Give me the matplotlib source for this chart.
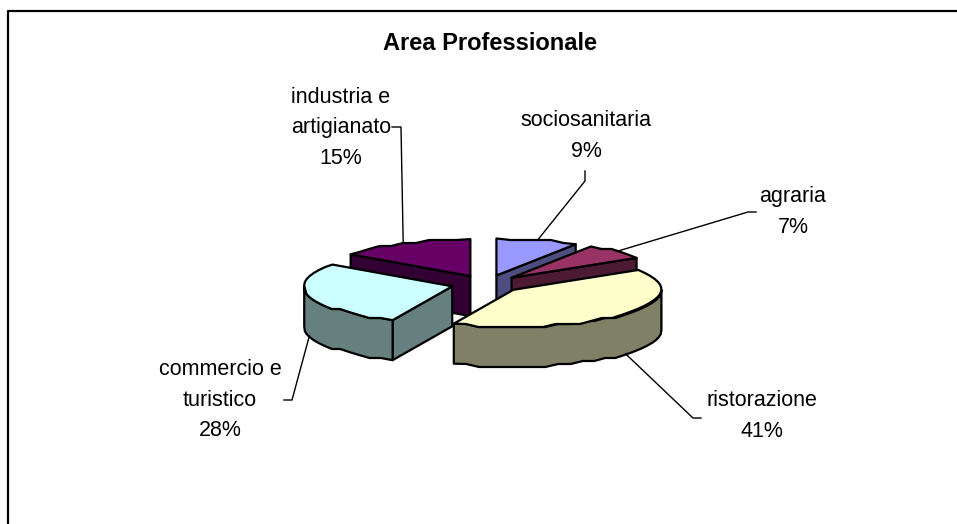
import numpy as np
import matplotlib
matplotlib.use('Agg')
import matplotlib.pyplot as plt
from matplotlib.patches import Polygon

plt.rcParams['font.family'] = ['Liberation Sans', 'DejaVu Sans']

# Dati del grafico
titolo = 'Area Professionale'
categorie = ['sociosanitaria', 'agraria', 'ristorazione',
             'commercio e\nturistico', 'industria e\nartigianato']
valori = [9, 7, 40.6, 28.4, 15]
colori = ['#9999FF', '#993366', '#FFFFCC', '#CCFFFF', '#660066']
colori_lato = ['#4D4D80', '#4D1A33', '#808066', '#668080', '#330033']

# Geometria della torta, in pixel
cx, cy = 486.5, 284
raggio = 148
schiaccia = 0.25
spessore = 40
esplosione = 35.5

# Posizione delle etichette e gomito delle linee guida
pos_etichette = [(586, 136), (793, 212), (762, 416), (220, 400), (341, 128)]
gomiti = [[(585, 171), (585, 181)], [(756, 212), (748, 212)],
          [(701, 418), (693, 418)], [(284, 400), (292, 400)],
          [(392, 127), (401, 127)]]
ordine = [4, 0, 1, 3, 2]


def punto(centro, ang):
    return (centro[0] + raggio * np.sin(ang),
            centro[1] - raggio * schiaccia * np.cos(ang))


def arco(centro, a1, a2):
    # passo largo e arrotondamento per il bordo a scalini dell'originale
    n = max(int(np.degrees(a2 - a1) / 5), 2)
    ang = np.linspace(a1, a2, n + 1)
    x, y = punto(centro, ang)
    y[1:-1] = np.round(y[1:-1] / 3) * 3
    return np.column_stack([x, y])


fig = plt.figure(figsize=(9.57, 5.24), dpi=100)
ax = fig.add_axes([0, 0, 1, 1])
ax.set_xlim(0, 957)
ax.set_ylim(524, 0)
ax.axis('off')

# Cornice: solo sinistra e sopra rientrano nell'immagine
ax.plot([8, 8, 957], [524, 11, 11], color='black', lw=1.6)

fine = np.cumsum(valori) / np.sum(valori) * 2 * np.pi
inizio = np.concatenate([[0], fine[:-1]])
medio = (inizio + fine) / 2
centri = [(cx + esplosione * np.sin(m),
           cy - esplosione * schiaccia * np.cos(m)) for m in medio]

stile = dict(edgecolor='black', lw=1.6, joinstyle='round')
for i in ordine:
    c, a1, a2 = centri[i], inizio[i], fine[i]
    giu = np.array([0, spessore])
    # pareti radiali, solo se rivolte verso chi guarda
    for a, visibile in ((a1, np.sin(a1) < -1e-6), (a2, np.sin(a2) > 1e-6)):
        if visibile:
            p = np.array(punto(c, a))
            ax.add_patch(Polygon([c, p, p + giu, np.array(c) + giu],
                                 facecolor=colori_lato[i], **stile))
    # parete esterna, solo la parte rivolta verso chi guarda
    b1, b2 = max(a1, np.pi / 2), min(a2, 3 * np.pi / 2)
    if b2 > b1:
        bordo = arco(c, b1, b2)
        ax.add_patch(Polygon(np.vstack([bordo, (bordo + giu)[::-1]]),
                             facecolor=colori_lato[i], **stile))
    # faccia superiore
    ax.add_patch(Polygon(np.vstack([[c], arco(c, a1, a2)]),
                         facecolor=colori[i], **stile))

# Linee guida, agganciate a metà della fetta
for i, m in enumerate(medio):
    ax_x, ax_y = punto(centri[i], m)
    if np.cos(m) < 0:
        ax_y += spessore
    xs = [g[0] for g in gomiti[i]] + [ax_x]
    ys = [g[1] for g in gomiti[i]] + [ax_y]
    ax.plot(xs, ys, color='black', lw=1.0)

# Etichette
for i, (x, y) in enumerate(pos_etichette):
    ax.text(x, y, f'{categorie[i]}\n{valori[i]:.0f}%', ha='center',
            va='center', ma='center', fontsize=15.5, linespacing=1.6,
            color='black')

ax.text(490, 43, titolo, ha='center', va='center', fontsize=17,
        fontweight='bold')

fig.savefig('out.png', dpi=100)
